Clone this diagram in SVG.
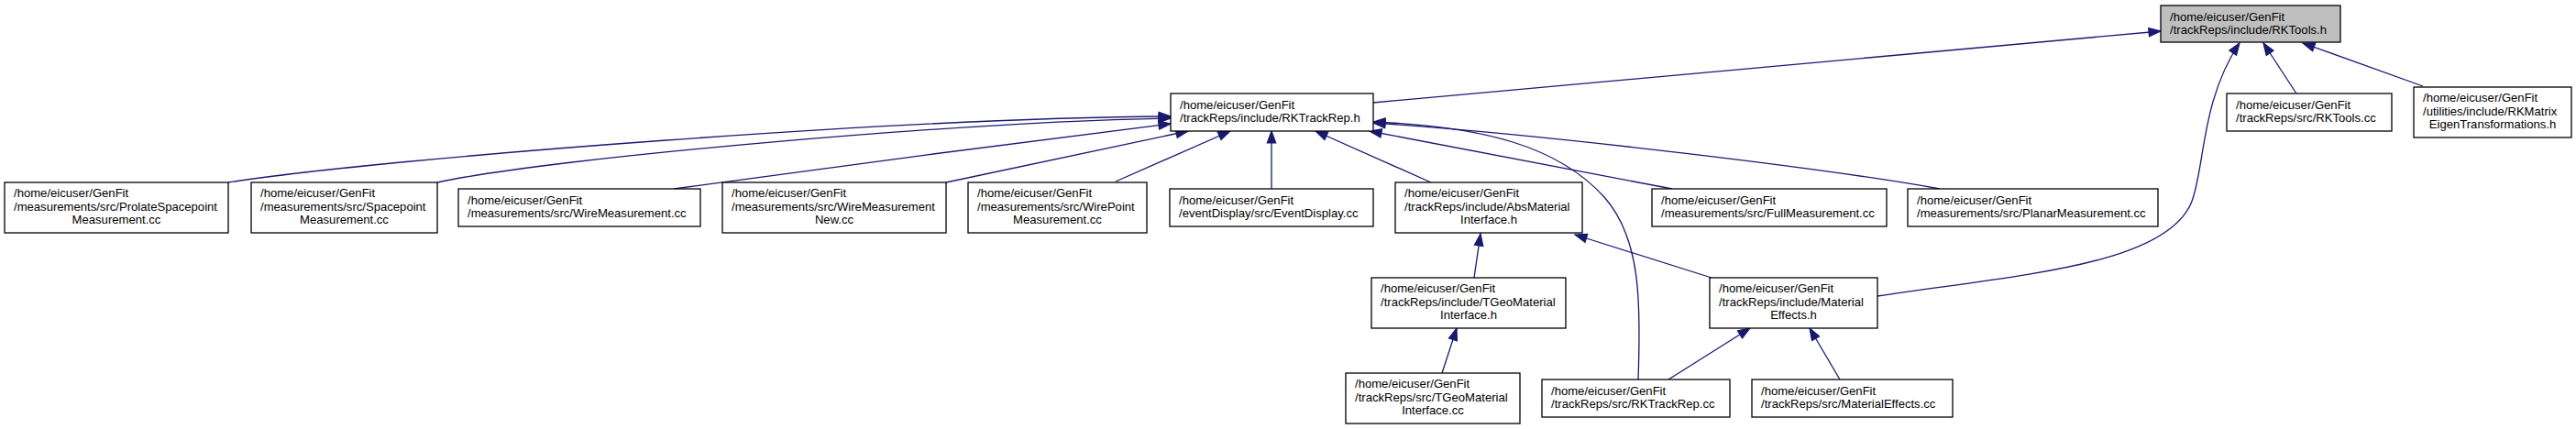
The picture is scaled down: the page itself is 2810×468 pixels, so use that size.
<svg xmlns="http://www.w3.org/2000/svg" width="2810" height="468" viewBox="0 0 2810 468">
<style>
.n rect{fill:#ffffff;stroke:#000000;stroke-width:1.3}
.root rect{fill:#bfbfbf}
text{font-family:"Liberation Sans",Arial,Helvetica,sans-serif;font-size:13.1px;fill:#000000}
.c{text-anchor:middle}
#edges path{fill:none;stroke:#191970;stroke-width:1.3;marker-end:url(#ah)}
</style>
<defs>
<marker id="ah" markerUnits="userSpaceOnUse" markerWidth="16" markerHeight="14" viewBox="-1 -7 16 14" refX="13" refY="0" orient="auto">
<path d="M0,-4.7 L13,0 L0,4.7 z" fill="#191970" stroke="#191970" stroke-width="1.2"/>
</marker>
</defs>
<rect x="0" y="0" width="2810" height="468" fill="#ffffff"/>
<g id="edges">
<path d="M1498,112 L2357,34"/>
<path d="M2048,323 C2200,300 2360,290 2390,222 C2405,188 2400,110 2443,47"/>
<path d="M2505,102 L2469,47"/>
<path d="M2643,94 L2512,47"/>
<path d="M249,199 C420,172 1000,128 1277,127"/>
<path d="M477,199 C600,172 1050,133 1277,129"/>
<path d="M735,206 C850,190 1150,150 1277,135"/>
<path d="M1032,199 L1296,143"/>
<path d="M1217,198 L1342,143"/>
<path d="M1387,206 L1387,143"/>
<path d="M1561,199 L1435,143"/>
<path d="M1787,414 C1790,330 1790,260 1750,215 C1700,160 1620,138 1498,133"/>
<path d="M1824,206 L1494,143"/>
<path d="M2116,206 C2000,185 1700,148 1498,134"/>
<path d="M1608,303 L1615,255"/>
<path d="M1867,303 L1718,256"/>
<path d="M1573,407 L1589,358"/>
<path d="M1820,414 L1909,358"/>
<path d="M2007,414 L1974,358"/>
</g>
<g id="n_rktools_h" class="n root">
<rect x="2357" y="6" width="196" height="40"/>
<text x="2367" y="22.5">/home/eicuser/GenFit</text>
<text x="2367" y="37">/trackReps/include/RKTools.h</text>
</g>
<g id="n_rktrackrep_h" class="n">
<rect x="1277" y="102" width="221" height="41"/>
<text x="1287" y="118.8">/home/eicuser/GenFit</text>
<text x="1287" y="133.3">/trackReps/include/RKTrackRep.h</text>
</g>
<g id="n_rktools_cc" class="n">
<rect x="2429" y="102" width="180" height="41"/>
<text x="2439" y="118.8">/home/eicuser/GenFit</text>
<text x="2439" y="133.3">/trackReps/src/RKTools.cc</text>
</g>
<g id="n_rkmatrix" class="n">
<rect x="2633" y="95" width="172" height="55"/>
<text x="2643" y="111">/home/eicuser/GenFit</text>
<text x="2643" y="125.7">/utilities/include/RKMatrix</text>
<text class="c" x="2719" y="140.4">EigenTransformations.h</text>
</g>
<g id="n_prolate" class="n">
<rect x="5" y="199" width="244" height="55"/>
<text x="15" y="215">/home/eicuser/GenFit</text>
<text x="15" y="229.7">/measurements/src/ProlateSpacepoint</text>
<text class="c" x="127" y="244.4">Measurement.cc</text>
</g>
<g id="n_spacepoint" class="n">
<rect x="274" y="199" width="203" height="55"/>
<text x="284" y="215">/home/eicuser/GenFit</text>
<text x="284" y="229.7">/measurements/src/Spacepoint</text>
<text class="c" x="375.5" y="244.4">Measurement.cc</text>
</g>
<g id="n_wiremeas" class="n">
<rect x="500" y="206" width="264" height="41"/>
<text x="510" y="222.8">/home/eicuser/GenFit</text>
<text x="510" y="237.3">/measurements/src/WireMeasurement.cc</text>
</g>
<g id="n_wiremeasnew" class="n">
<rect x="788" y="199" width="244" height="55"/>
<text x="798" y="215">/home/eicuser/GenFit</text>
<text x="798" y="229.7">/measurements/src/WireMeasurement</text>
<text class="c" x="910" y="244.4">New.cc</text>
</g>
<g id="n_wirepoint" class="n">
<rect x="1056" y="199" width="195" height="55"/>
<text x="1066" y="215">/home/eicuser/GenFit</text>
<text x="1066" y="229.7">/measurements/src/WirePoint</text>
<text class="c" x="1153.5" y="244.4">Measurement.cc</text>
</g>
<g id="n_eventdisplay" class="n">
<rect x="1276" y="206" width="222" height="41"/>
<text x="1286" y="222.8">/home/eicuser/GenFit</text>
<text x="1286" y="237.3">/eventDisplay/src/EventDisplay.cc</text>
</g>
<g id="n_absmaterial" class="n">
<rect x="1522" y="199" width="204" height="55"/>
<text x="1532" y="215">/home/eicuser/GenFit</text>
<text x="1532" y="229.7">/trackReps/include/AbsMaterial</text>
<text class="c" x="1624" y="244.4">Interface.h</text>
</g>
<g id="n_fullmeas" class="n">
<rect x="1802" y="206" width="256" height="41"/>
<text x="1812" y="222.8">/home/eicuser/GenFit</text>
<text x="1812" y="237.3">/measurements/src/FullMeasurement.cc</text>
</g>
<g id="n_planarmeas" class="n">
<rect x="2081" y="206" width="273" height="41"/>
<text x="2091" y="222.8">/home/eicuser/GenFit</text>
<text x="2091" y="237.3">/measurements/src/PlanarMeasurement.cc</text>
</g>
<g id="n_tgeo_h" class="n">
<rect x="1496" y="303" width="212" height="55"/>
<text x="1506" y="319">/home/eicuser/GenFit</text>
<text x="1506" y="333.7">/trackReps/include/TGeoMaterial</text>
<text class="c" x="1602" y="348.4">Interface.h</text>
</g>
<g id="n_mateff_h" class="n">
<rect x="1865" y="303" width="183" height="55"/>
<text x="1875" y="319">/home/eicuser/GenFit</text>
<text x="1875" y="333.7">/trackReps/include/Material</text>
<text class="c" x="1956.5" y="348.4">Effects.h</text>
</g>
<g id="n_tgeo_cc" class="n">
<rect x="1468" y="407" width="190" height="55"/>
<text x="1478" y="423">/home/eicuser/GenFit</text>
<text x="1478" y="437.7">/trackReps/src/TGeoMaterial</text>
<text class="c" x="1563" y="452.4">Interface.cc</text>
</g>
<g id="n_rktrackrep_cc" class="n">
<rect x="1682" y="414" width="205" height="41"/>
<text x="1692" y="430.8">/home/eicuser/GenFit</text>
<text x="1692" y="445.3">/trackReps/src/RKTrackRep.cc</text>
</g>
<g id="n_mateff_cc" class="n">
<rect x="1911" y="414" width="219" height="41"/>
<text x="1921" y="430.8">/home/eicuser/GenFit</text>
<text x="1921" y="445.3">/trackReps/src/MaterialEffects.cc</text>
</g>
</svg>
